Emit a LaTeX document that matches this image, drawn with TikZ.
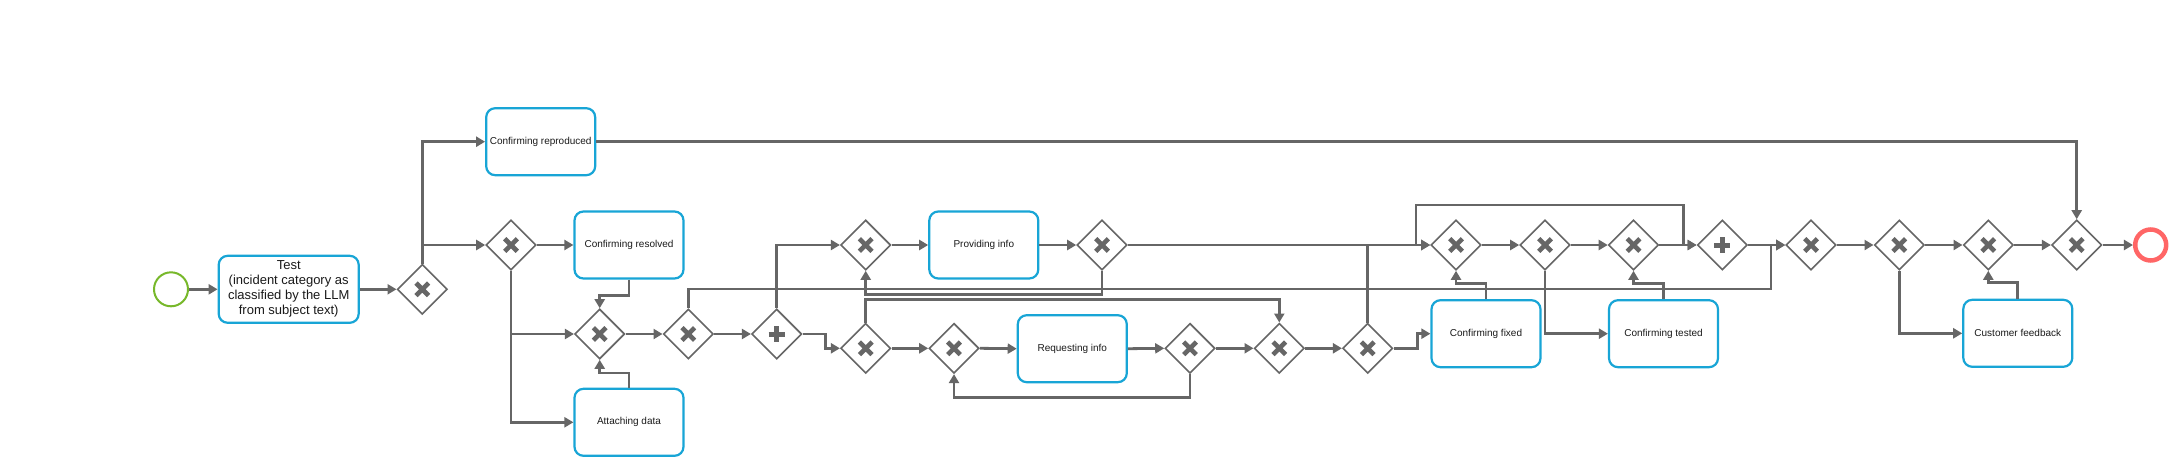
\documentclass[tikz,border=0pt]{standalone}
\usepackage{fontspec}
\setmainfont{Liberation Sans}
\usetikzlibrary{shapes.geometric,arrows.meta}
\definecolor{flowc}{HTML}{666666}
\definecolor{taskc}{HTML}{18A5D6}
\definecolor{startc}{HTML}{77B82A}
\definecolor{endc}{HTML}{FF6666}
\definecolor{txtc}{HTML}{1A1A1A}
\begin{document}
\begin{tikzpicture}[x=1pt,y=-1pt,
  task/.style={draw=taskc, line width=2.2pt, rounded corners=9pt, minimum width=109pt, minimum height=67pt, inner sep=2pt, font=\fontsize{10}{12}\selectfont, text=txtc, align=center, fill=white},
  gw/.style={draw=flowc, diamond, line width=1.6pt, minimum width=50pt, minimum height=50pt, inner sep=0pt, fill=white},
  gwx/.style={gw, path picture={\draw[flowc, line width=4.6pt] ([shift={(-6.3,-6.3)}]path picture bounding box.center) -- ([shift={(6.3,6.3)}]path picture bounding box.center) ([shift={(-6.3,6.3)}]path picture bounding box.center) -- ([shift={(6.3,-6.3)}]path picture bounding box.center);}},
  gwp/.style={gw, path picture={\draw[flowc, line width=5pt] ([shift={(-8,0)}]path picture bounding box.center) -- ([shift={(8,0)}]path picture bounding box.center) ([shift={(0,-8)}]path picture bounding box.center) -- ([shift={(0,8)}]path picture bounding box.center);}},
  flow/.style={draw=flowc, line width=2.8pt, -{Triangle[length=9pt,width=10pt]}},
]
\useasboundingbox[fill=white] (0,0) rectangle (2180,466);

% events
\node[circle, draw=startc, line width=2pt, minimum size=34pt, inner sep=0pt] (st) at (171,289.3) {};
\node[circle, draw=endc, line width=4.5pt, minimum size=31pt, inner sep=0pt] (en) at (2150.7,245) {};

% tasks
\node[task, minimum width=140pt, font=\fontsize{13}{15}\selectfont] (test) at (288.7,289.3) {Test\\(incident category as\\classified by the LLM\\from subject text)};
\node[task] (cr) at (540.7,141.7) {Confirming reproduced};
\node[task] (cres) at (629,245) {Confirming resolved};
\node[task] (ad) at (629,422.3) {Attaching data};
\node[task] (pinfo) at (983.8,245) {Providing info};
\node[task] (rinfo) at (1072.3,348.7) {Requesting info};
\node[task] (cf) at (1486,333.7) {Confirming fixed};
\node[task] (ct) at (1663.5,333.7) {Confirming tested};
\node[task] (cfb) at (2017.8,333.3) {Customer feedback};

% gateways
\node[gwx] (g1) at (422.3,289.3) {};
\node[gwx] (g2) at (511,245) {};
\node[gwx] (g3) at (599.7,334) {};
\node[gwx] (g4) at (688.3,334) {};
\node[gwp] (p1) at (776.7,334) {};
\node[gwx] (g5) at (865.7,245) {};
\node[gwx] (g6) at (1102,245) {};
\node[gwx] (g7) at (865.7,348.3) {};
\node[gwx] (g8) at (954,348.3) {};
\node[gwx] (g9) at (1190,348.3) {};
\node[gwx] (g10) at (1279.3,348.3) {};
\node[gwx] (g11) at (1367.7,348.3) {};
\node[gwx] (g12) at (1456,245) {};
\node[gwx] (g13) at (1545,245) {};
\node[gwx] (g14) at (1633.5,245) {};
\node[gwp] (p2) at (1722.3,245) {};
\node[gwx] (g15) at (1811,245) {};
\node[gwx] (g16) at (1899.3,245) {};
\node[gwx] (g17) at (1988.3,245) {};
\node[gwx] (g18) at (2076.7,245) {};

% waypoints
\coordinate (jb) at (1771,289);
\coordinate (ta) at (1416,205);
\coordinate (tb) at (1683.3,205);

% flows
\draw[flow] (st.east) -- (test.west);
\draw[flow] (test.east) -- (g1.west);
\draw[flow] (g1.north) |- (cr.west);
\draw[flow] (g1.north) |- (g2.west);
\draw[flow] (g2.east) -- (cres.west);
\draw[flow] (g2.south) |- (g3.west);
\draw[flow] (g2.south) |- (ad.west);
\draw[flow] (cres.south) -- ++(0,15.5) -| (g3.north);
\draw[flow] (ad.north) -- ++(0,-14.8) -| (g3.south);
\draw[flow] (g3.east) -- (g4.west);
\draw[flow] (g4.east) -- (p1.west);
\draw[flow] (g4.north) |- (jb) |- (g15.west);
\draw[flow] (p1.north) |- (g5.west);
\draw[flow] (p1.east) -- ++(23.3,0) |- (g7.west);
\draw[flow] (g5.east) -- (pinfo.west);
\draw[flow] (pinfo.east) -- (g6.west);
\draw[flow] (g6.south) -- ++(0,23.3) -| (g5.south);
\draw[flow] (g6.east) -- (g12.west);
\draw[flow] (g7.east) -- (g8.west);
\draw[flow] (g7.north) -- ++(0,-23.3) -| (g10.north);
\draw[flow] (g8.east) -- (rinfo.west);
\draw[flow] (rinfo.east) -- (g9.west);
\draw[flow] (g9.south) -- ++(0,23.4) -| (g8.south);
\draw[flow] (g9.east) -- (g10.west);
\draw[flow] (g10.east) -- (g11.west);
\draw[flow] (g11.north) |- (g12.west);
\draw[flow] (g11.north) |- (ta |- g12.west) -- (ta) -- (tb) |- (p2.west);
\draw[flow] (g11.east) -- ++(23.7,0) |- (cf.west);
\draw[flow] (cf.north) -- ++(0,-15.7) -| (g12.south);
\draw[flow] (g12.east) -- (g13.west);
\draw[flow] (g13.south) |- (ct.west);
\draw[flow] (g13.east) -- (g14.west);
\draw[flow] (ct.north) -- ++(0,-15.7) -| (g14.south);
\draw[flow] (g14.east) -- (p2.west);
\draw[flow] (p2.east) -- (g15.west);
\draw[flow] (g15.east) -- (g16.west);
\draw[flow] (g16.east) -- (g17.west);
\draw[flow] (g16.south) |- (cfb.west);
\draw[flow] (cfb.north) -- ++(0,-16) -| (g17.south);
\draw[flow] (g17.east) -- (g18.west);
\draw[flow] (cr.east) -| (g18.north);
\draw[flow] (g18.east) -- (en.west);
\end{tikzpicture}
\end{document}
